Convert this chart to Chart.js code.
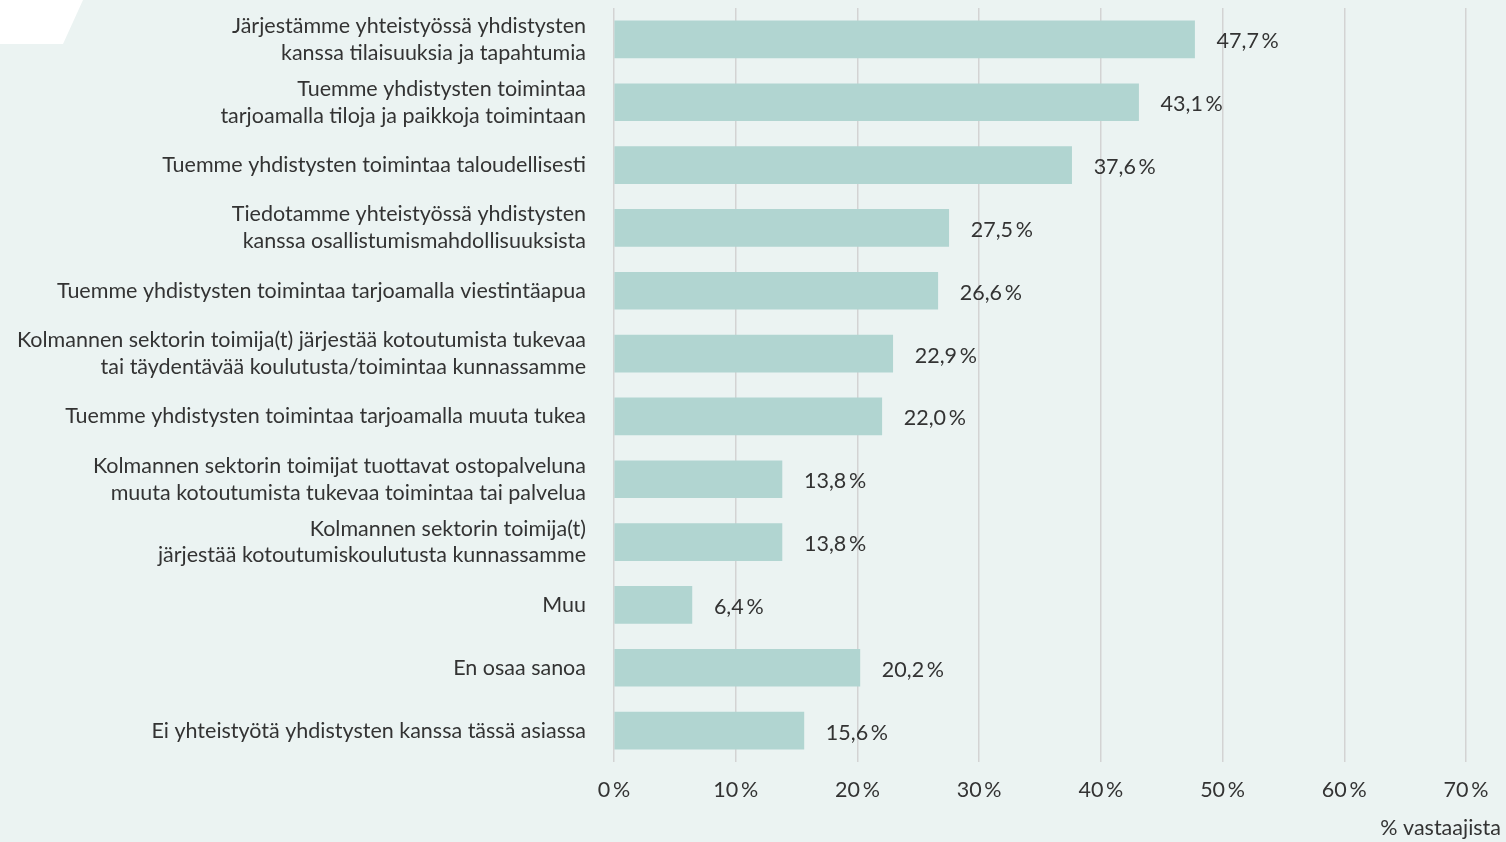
<!DOCTYPE html>
<html lang="fi">
<head>
<meta charset="utf-8" />
<title>Yhteistyö yhdistysten kanssa</title>
<script src="https://cdn.jsdelivr.net/npm/chart.js"></script>
<style>
    html, body { margin: 0; padding: 0; background: #ebf3f2; }
    #wrap { width: 1506px; height: 842px; }
</style>
</head>
<body>
<div id="wrap"><canvas id="chart" width="1506" height="842"></canvas></div>
<script>
    var categories = [
        ['Järjestämme yhteistyössä yhdistysten', 'kanssa tilaisuuksia ja tapahtumia'],
        ['Tuemme yhdistysten toimintaa', 'tarjoamalla tiloja ja paikkoja toimintaan'],
        'Tuemme yhdistysten toimintaa taloudellisesti',
        ['Tiedotamme yhteistyössä yhdistysten', 'kanssa osallistumismahdollisuuksista'],
        'Tuemme yhdistysten toimintaa tarjoamalla viestintäapua',
        ['Kolmannen sektorin toimija(t) järjestää kotoutumista tukevaa', 'tai täydentävää koulutusta/toimintaa kunnassamme'],
        'Tuemme yhdistysten toimintaa tarjoamalla muuta tukea',
        ['Kolmannen sektorin toimijat tuottavat ostopalveluna', 'muuta kotoutumista tukevaa toimintaa tai palvelua'],
        ['Kolmannen sektorin toimija(t)', 'järjestää kotoutumiskoulutusta kunnassamme'],
        'Muu',
        'En osaa sanoa',
        'Ei yhteistyötä yhdistysten kanssa tässä asiassa'
    ];
    var values = [47.7, 43.1, 37.6, 27.5, 26.6, 22.9, 22.0, 13.8, 13.8, 6.4, 20.2, 15.6];
    var xMin = 0, xMax = 70, xStep = 10;
    var axisTitle = '% vastaajista';

    var textColor = '#333333';
    var fontFamily = 'Lato, "Open Sans", sans-serif';
    var fontSize = 21.5;

    function fmt(v, dec) {
        return v.toFixed(dec).replace('.', ',') + '\u2009%';
    }

    // white corner shape, value labels and the axis title
    var extras = {
        id: 'extras',
        beforeDraw: function (chart) {
            var ctx = chart.ctx;
            ctx.save();
            ctx.fillStyle = '#ffffff';
            ctx.beginPath();
            ctx.moveTo(0, 0);
            ctx.lineTo(83, 0);
            ctx.lineTo(63, 44);
            ctx.lineTo(0, 44);
            ctx.closePath();
            ctx.fill();
            ctx.restore();
        },
        afterDatasetsDraw: function (chart) {
            var ctx = chart.ctx;
            var meta = chart.getDatasetMeta(0);
            ctx.save();
            ctx.font = fontSize + 'px ' + fontFamily;
            ctx.fillStyle = textColor;
            ctx.textAlign = 'left';
            ctx.textBaseline = 'middle';
            meta.data.forEach(function (bar, i) {
                ctx.fillText(fmt(values[i], 1), bar.x + 22, bar.y + 2);
            });
            ctx.textAlign = 'right';
            ctx.fillText(axisTitle, chart.width - 5, 828);
            ctx.restore();
        }
    };

    var chart = new Chart(document.getElementById('chart'), {
        type: 'bar',
        data: {
            labels: categories,
            datasets: [{
                data: values,
                backgroundColor: '#b1d5d1',
                borderWidth: 0,
                barThickness: 37
            }]
        },
        options: {
            indexAxis: 'y',
            responsive: false,
            animation: false,
            layout: { padding: { top: 8, right: 40, bottom: 0, left: 0 } },
            plugins: {
                legend: { display: false },
                tooltip: { enabled: false }
            },
            scales: {
                x: {
                    min: xMin,
                    max: xMax,
                    border: { display: false },
                    grid: { color: '#d3d3d3', lineWidth: 1.5, drawTicks: false },
                    ticks: {
                        stepSize: xStep,
                        padding: 15,
                        color: textColor,
                        font: { family: fontFamily, size: fontSize },
                        callback: function (v) { return fmt(v, 0); }
                    },
                    afterFit: function (s) { s.height = 80; }
                },
                y: {
                    border: { display: false },
                    grid: { display: false, drawTicks: false },
                    ticks: {
                        padding: 28,
                        autoSkip: false,
                        color: textColor,
                        font: { family: fontFamily, size: fontSize, lineHeight: 1.25 }
                    },
                    afterFit: function (s) {
                        s.width = 614;
                        s.paddingTop = 0;
                        s.paddingBottom = 0;
                    }
                }
            }
        },
        plugins: [extras]
    });
</script>
</body>
</html>
